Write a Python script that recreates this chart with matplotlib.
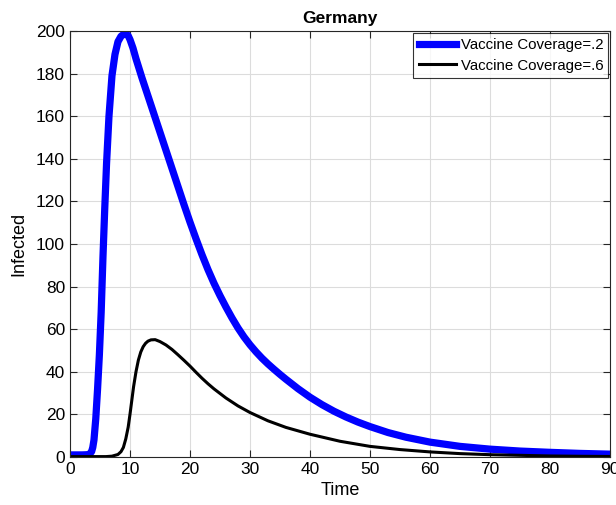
import matplotlib
matplotlib.use("Agg")
import matplotlib.pyplot as plt

plt.rcParams['font.family'] = ['Liberation Sans', 'DejaVu Sans']

# Vaccine coverage = .2 (blue)
t_blue = [0, 1, 2, 3, 3.3, 3.6, 3.8, 4.0, 4.3, 4.6, 4.9, 5.2, 5.5, 5.8, 6.1, 6.5, 7.0,
          7.5, 8.0, 8.5, 9.0, 9.4, 9.7, 10.0, 10.5, 11.0, 11.5, 12, 13, 14, 15, 16, 17, 18, 19,
          20, 21, 22, 23, 24, 25, 26, 27, 28, 29, 30, 31, 32, 33, 34, 35, 36, 38, 40, 42, 44,
          46, 48, 50, 53, 56, 60, 65, 70, 75, 80, 85, 90]
i_blue = [1.0, 1.0, 1.0, 1.1, 1.5, 2.5, 4.5, 8, 18, 32, 48, 68, 94, 117, 138, 160, 179,
          189, 195, 197.5, 198.6, 198.6, 197.8, 196, 192, 187, 182.5, 178, 169.5, 161, 152.5, 144, 135.5, 127, 118.5,
          110.3, 102.5, 95, 88, 81.6, 75.8, 70.4, 65.3, 60.6, 56.4, 52.7, 49.4, 46.4, 43.7, 41.2, 38.8, 36.5, 32.1, 28.1, 24.6, 21.5,
          18.8, 16.4, 14.3, 11.5, 9.3, 7.0, 5.0, 3.7, 2.8, 2.2, 1.7, 1.35]

# Vaccine coverage = .6 (black)
t_black = [0, 2, 4, 6, 7, 8, 8.5, 8.9, 9.3, 9.7, 10.0, 10.3, 10.6, 11.0, 11.4, 11.8, 12.2, 12.6,
           13, 13.5, 14.2, 15, 16, 17, 18, 19, 20, 21, 22, 23, 24, 26, 28, 30, 33, 36, 40, 45, 50,
           55, 60, 65, 70, 75, 80, 85, 90]
i_black = [0.2, 0.2, 0.2, 0.2, 0.4, 1.2, 2.5, 4.5, 8.5, 14, 20, 26.5, 33, 40, 45.5, 49.3, 51.8, 53.4,
           54.4, 55, 55.1, 54.2, 52.6, 50.5, 48, 45.4, 42.7, 39.8, 37, 34.4, 32, 27.7, 24, 20.9, 17, 13.9, 10.7, 7.4, 5.0,
           3.5, 2.4, 1.6, 1.1, 0.8, 0.5, 0.35, 0.25]

x_ticks = [0, 10, 20, 30, 40, 50, 60, 70, 80, 90]
y_ticks = [0, 20, 40, 60, 80, 100, 120, 140, 160, 180, 200]
labels = ['Vaccine Coverage=.2', 'Vaccine Coverage=.6']

fig = plt.figure(figsize=(6.16, 5.05), dpi=100)
ax = fig.add_axes([0.1136, 0.095, 0.8766, 0.8436])

ax.plot(t_blue, i_blue, color='#0000ff', lw=5.2, label=labels[0])
ax.plot(t_black, i_black, color='black', lw=2.2, label=labels[1])

ax.set_xlim(0, 90)
ax.set_ylim(0, 200)
ax.set_xticks(x_ticks)
ax.set_yticks(y_ticks)
ax.grid(True, color='#dcdcdc', lw=0.8)
ax.set_axisbelow(True)
ax.tick_params(direction='in', top=True, right=True, length=5, width=0.8,
               colors='#262626', labelsize=12.5, labelcolor='black')
for s in ax.spines.values():
    s.set_color('#262626')
    s.set_linewidth(0.8)

ax.set_xlabel('Time', fontsize=13, labelpad=4)
ax.set_ylabel('Infected', fontsize=13, labelpad=6)
ax.set_title('Germany', fontsize=12.5, fontweight='bold', pad=6)

leg = ax.legend(loc='upper right', fontsize=10.8, frameon=True, fancybox=False,
                edgecolor='black', handlelength=2.5, borderaxespad=0.1,
                borderpad=0.35, labelspacing=0.45, handletextpad=0.3)
leg.get_frame().set_linewidth(0.8)

fig.savefig('out.png', dpi=100)
